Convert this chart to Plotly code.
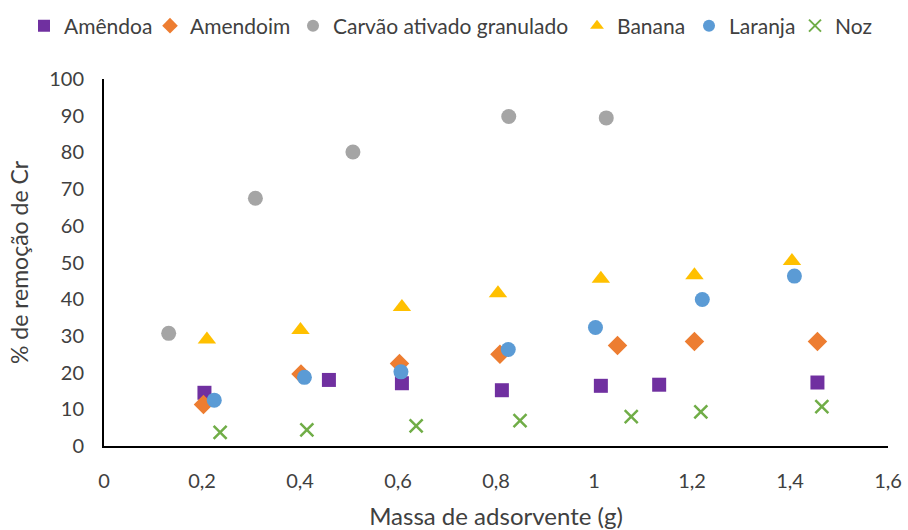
import plotly.graph_objects as go

# ---- data ----
amendoa_x = [0.205, 0.459, 0.608, 0.812, 1.014, 1.133, 1.456]
amendoa_y = [14.5, 18.0, 17.1, 15.2, 16.4, 16.7, 17.3]

amendoim_x = [0.203, 0.402, 0.603, 0.808, 1.048, 1.205, 1.456]
amendoim_y = [11.3, 19.6, 22.5, 25.0, 27.4, 28.5, 28.5]

carvao_x = [0.132, 0.309, 0.508, 0.826, 1.025]
carvao_y = [30.7, 67.5, 80.1, 89.8, 89.4]

banana_x = [0.210, 0.401, 0.608, 0.804, 1.014, 1.205, 1.404]
banana_y = [29.0, 31.6, 37.9, 41.6, 45.6, 46.5, 50.4]

laranja_x = [0.225, 0.409, 0.606, 0.825, 1.003, 1.221, 1.409]
laranja_y = [12.5, 18.7, 20.2, 26.3, 32.3, 39.9, 46.3]

noz_x = [0.237, 0.414, 0.637, 0.849, 1.076, 1.218, 1.465]
noz_y = [3.7, 4.4, 5.5, 6.9, 8.0, 9.3, 10.7]

x_ticks = [0, 0.2, 0.4, 0.6, 0.8, 1.0, 1.2, 1.4, 1.6]
x_tick_labels = ["0", "0,2", "0,4", "0,6", "0,8", "1", "1,2", "1,4", "1,6"]
y_ticks = [0, 10, 20, 30, 40, 50, 60, 70, 80, 90, 100]

FONT = "Lato"
TXT = "#404040"
W, H = 908, 530

series = [
    ("Amêndoa", amendoa_x, amendoa_y, dict(symbol="square", size=14, color="#7030A0"), 24),
    ("Amendoim", amendoim_x, amendoim_y, dict(symbol="diamond", size=15, color="#ED7D31"), 150),
    ("Carvão ativado granulado", carvao_x, carvao_y, dict(symbol="circle", size=15, color="#A5A5A5"), 293),
    ("Banana", banana_x, banana_y, dict(symbol="triangle-up", size=16, color="#FFC000"), 577),
    ("Laranja", laranja_x, laranja_y, dict(symbol="circle", size=15, color="#5B9BD5"), 689),
    ("Noz", noz_x, noz_y, dict(symbol="x-thin", size=13, color="#70AD47",
                               line=dict(color="#70AD47", width=2.5)), 795),
]

fig = go.Figure()
legend_layouts = {}
for i, (name, xs, ys, mk, lx) in enumerate(series):
    lg = "legend" if i == 0 else f"legend{i + 1}"
    fig.add_trace(go.Scatter(x=xs, y=ys, mode="markers", name=name, marker=mk, legend=lg))
    legend_layouts[lg] = dict(
        orientation="h", x=lx / W, xanchor="left", xref="container",
        y=1 - 26 / H, yanchor="middle", yref="container",
        font=dict(family=FONT, size=21, color=TXT), bgcolor="rgba(0,0,0,0)",
        itemwidth=30, itemsizing="constant",
    )

fig.update_layout(
    width=W, height=H,
    margin=dict(l=104, r=20, t=79, b=84),
    paper_bgcolor="white", plot_bgcolor="white",
    font=dict(family=FONT, size=20, color=TXT),
    showlegend=True,
    **legend_layouts,
)
fig.update_xaxes(
    range=[0, 1.6], tickvals=x_ticks, ticktext=x_tick_labels, automargin=False,
    showgrid=False, zeroline=False, showline=True, linecolor="#000000", linewidth=2,
    ticks="", ticklabelstandoff=16, tickfont=dict(size=20, color=TXT),
    title=dict(text="Massa de adsorvente (g)", font=dict(size=24, color=TXT), standoff=18),
)
fig.update_yaxes(
    range=[0, 100], tickvals=y_ticks, automargin=False,
    showgrid=False, zeroline=False, showline=True, linecolor="#000000", linewidth=2,
    ticks="", ticklabelstandoff=14, tickfont=dict(size=20, color=TXT),
    title=dict(text="% de remoção de Cr", font=dict(size=23, color=TXT), standoff=14),
)

fig.write_html("out.html")
